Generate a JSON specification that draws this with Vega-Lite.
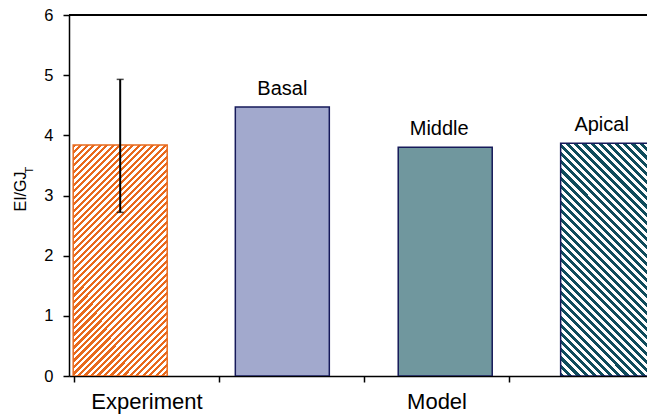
{
  "$schema": "https://vega.github.io/schema/vega-lite/v6.json",
  "width": 578,
  "height": 361,
  "autosize": {"type": "none"},
  "padding": {"left": 69, "top": 15, "right": 0, "bottom": 42},
  "background": "white",
  "config": {
    "view": {"stroke": null},
    "font": "Liberation Sans",
    "axis": {"grid": false, "domainColor": "black", "domainWidth": 1.5, "tickColor": "black", "tickWidth": 1.5, "tickSize": 6, "labelColor": "black", "labelFont": "Liberation Sans", "titleFont": "Liberation Sans", "titleFontWeight": "normal", "titleColor": "black"}
  },
  "data": {
    "values": [
      {"name": "Experiment", "pos": 0.3185, "value": 3.84, "lo": 2.72, "hi": 4.93},
      {"name": "Basal", "pos": 1.4366, "value": 4.47},
      {"name": "Middle", "pos": 2.56, "value": 3.8},
      {"name": "Apical", "pos": 3.68, "value": 3.87}
    ]
  },
  "layer": [
    {
      "mark": {"type": "rule", "color": "black", "strokeWidth": 1.5},
      "encoding": {"y": {"datum": 6, "type": "quantitative", "title": "EI/GJ", "scale": {"domain": [0, 6], "nice": false},
        "axis": {"values": [0, 1, 2, 3, 4, 5, 6], "format": "d", "labelFontSize": 16.5, "labelPadding": 10, "titleFontSize": 16, "titlePadding": 15, "titleY": 176}}}
    },
    {
      "transform": [{"filter": "datum.name == 'Experiment'"}],
      "mark": {"type": "bar", "width": 94, "clip": true, "stroke": "#e8691c", "strokeWidth": 1.5,
        "fill": {"gradient": "linear", "x1": 0, "y1": 0, "x2": 0.4923, "y2": 1.2071, "stops": [
{"offset":0,"color":"#e8691c"},{"offset":0.01,"color":"#e8691c"},{"offset":0.01,"color":"#fff"},{"offset":0.02,"color":"#fff"},
{"offset":0.02,"color":"#e8691c"},{"offset":0.03,"color":"#e8691c"},{"offset":0.03,"color":"#fff"},{"offset":0.04,"color":"#fff"},
{"offset":0.04,"color":"#e8691c"},{"offset":0.05,"color":"#e8691c"},{"offset":0.05,"color":"#fff"},{"offset":0.06,"color":"#fff"},
{"offset":0.06,"color":"#e8691c"},{"offset":0.07,"color":"#e8691c"},{"offset":0.07,"color":"#fff"},{"offset":0.08,"color":"#fff"},
{"offset":0.08,"color":"#e8691c"},{"offset":0.09,"color":"#e8691c"},{"offset":0.09,"color":"#fff"},{"offset":0.1,"color":"#fff"},
{"offset":0.1,"color":"#e8691c"},{"offset":0.11,"color":"#e8691c"},{"offset":0.11,"color":"#fff"},{"offset":0.12,"color":"#fff"},
{"offset":0.12,"color":"#e8691c"},{"offset":0.13,"color":"#e8691c"},{"offset":0.13,"color":"#fff"},{"offset":0.14,"color":"#fff"},
{"offset":0.14,"color":"#e8691c"},{"offset":0.15,"color":"#e8691c"},{"offset":0.15,"color":"#fff"},{"offset":0.16,"color":"#fff"},
{"offset":0.16,"color":"#e8691c"},{"offset":0.17,"color":"#e8691c"},{"offset":0.17,"color":"#fff"},{"offset":0.18,"color":"#fff"},
{"offset":0.18,"color":"#e8691c"},{"offset":0.19,"color":"#e8691c"},{"offset":0.19,"color":"#fff"},{"offset":0.2,"color":"#fff"},
{"offset":0.2,"color":"#e8691c"},{"offset":0.21,"color":"#e8691c"},{"offset":0.21,"color":"#fff"},{"offset":0.22,"color":"#fff"},
{"offset":0.22,"color":"#e8691c"},{"offset":0.23,"color":"#e8691c"},{"offset":0.23,"color":"#fff"},{"offset":0.24,"color":"#fff"},
{"offset":0.24,"color":"#e8691c"},{"offset":0.25,"color":"#e8691c"},{"offset":0.25,"color":"#fff"},{"offset":0.26,"color":"#fff"},
{"offset":0.26,"color":"#e8691c"},{"offset":0.27,"color":"#e8691c"},{"offset":0.27,"color":"#fff"},{"offset":0.28,"color":"#fff"},
{"offset":0.28,"color":"#e8691c"},{"offset":0.29,"color":"#e8691c"},{"offset":0.29,"color":"#fff"},{"offset":0.3,"color":"#fff"},
{"offset":0.3,"color":"#e8691c"},{"offset":0.31,"color":"#e8691c"},{"offset":0.31,"color":"#fff"},{"offset":0.32,"color":"#fff"},
{"offset":0.32,"color":"#e8691c"},{"offset":0.33,"color":"#e8691c"},{"offset":0.33,"color":"#fff"},{"offset":0.34,"color":"#fff"},
{"offset":0.34,"color":"#e8691c"},{"offset":0.35,"color":"#e8691c"},{"offset":0.35,"color":"#fff"},{"offset":0.36,"color":"#fff"},
{"offset":0.36,"color":"#e8691c"},{"offset":0.37,"color":"#e8691c"},{"offset":0.37,"color":"#fff"},{"offset":0.38,"color":"#fff"},
{"offset":0.38,"color":"#e8691c"},{"offset":0.39,"color":"#e8691c"},{"offset":0.39,"color":"#fff"},{"offset":0.4,"color":"#fff"},
{"offset":0.4,"color":"#e8691c"},{"offset":0.41,"color":"#e8691c"},{"offset":0.41,"color":"#fff"},{"offset":0.42,"color":"#fff"},
{"offset":0.42,"color":"#e8691c"},{"offset":0.43,"color":"#e8691c"},{"offset":0.43,"color":"#fff"},{"offset":0.44,"color":"#fff"},
{"offset":0.44,"color":"#e8691c"},{"offset":0.45,"color":"#e8691c"},{"offset":0.45,"color":"#fff"},{"offset":0.46,"color":"#fff"},
{"offset":0.46,"color":"#e8691c"},{"offset":0.47,"color":"#e8691c"},{"offset":0.47,"color":"#fff"},{"offset":0.48,"color":"#fff"},
{"offset":0.48,"color":"#e8691c"},{"offset":0.49,"color":"#e8691c"},{"offset":0.49,"color":"#fff"},{"offset":0.5,"color":"#fff"},
{"offset":0.5,"color":"#e8691c"},{"offset":0.51,"color":"#e8691c"},{"offset":0.51,"color":"#fff"},{"offset":0.52,"color":"#fff"},
{"offset":0.52,"color":"#e8691c"},{"offset":0.53,"color":"#e8691c"},{"offset":0.53,"color":"#fff"},{"offset":0.54,"color":"#fff"},
{"offset":0.54,"color":"#e8691c"},{"offset":0.55,"color":"#e8691c"},{"offset":0.55,"color":"#fff"},{"offset":0.56,"color":"#fff"},
{"offset":0.56,"color":"#e8691c"},{"offset":0.57,"color":"#e8691c"},{"offset":0.57,"color":"#fff"},{"offset":0.58,"color":"#fff"},
{"offset":0.58,"color":"#e8691c"},{"offset":0.59,"color":"#e8691c"},{"offset":0.59,"color":"#fff"},{"offset":0.6,"color":"#fff"},
{"offset":0.6,"color":"#e8691c"},{"offset":0.61,"color":"#e8691c"},{"offset":0.61,"color":"#fff"},{"offset":0.62,"color":"#fff"},
{"offset":0.62,"color":"#e8691c"},{"offset":0.63,"color":"#e8691c"},{"offset":0.63,"color":"#fff"},{"offset":0.64,"color":"#fff"},
{"offset":0.64,"color":"#e8691c"},{"offset":0.65,"color":"#e8691c"},{"offset":0.65,"color":"#fff"},{"offset":0.66,"color":"#fff"},
{"offset":0.66,"color":"#e8691c"},{"offset":0.67,"color":"#e8691c"},{"offset":0.67,"color":"#fff"},{"offset":0.68,"color":"#fff"},
{"offset":0.68,"color":"#e8691c"},{"offset":0.69,"color":"#e8691c"},{"offset":0.69,"color":"#fff"},{"offset":0.7,"color":"#fff"},
{"offset":0.7,"color":"#e8691c"},{"offset":0.71,"color":"#e8691c"},{"offset":0.71,"color":"#fff"},{"offset":0.72,"color":"#fff"},
{"offset":0.72,"color":"#e8691c"},{"offset":0.73,"color":"#e8691c"},{"offset":0.73,"color":"#fff"},{"offset":0.74,"color":"#fff"},
{"offset":0.74,"color":"#e8691c"},{"offset":0.75,"color":"#e8691c"},{"offset":0.75,"color":"#fff"},{"offset":0.76,"color":"#fff"},
{"offset":0.76,"color":"#e8691c"},{"offset":0.77,"color":"#e8691c"},{"offset":0.77,"color":"#fff"},{"offset":0.78,"color":"#fff"},
{"offset":0.78,"color":"#e8691c"},{"offset":0.79,"color":"#e8691c"},{"offset":0.79,"color":"#fff"},{"offset":0.8,"color":"#fff"},
{"offset":0.8,"color":"#e8691c"},{"offset":0.81,"color":"#e8691c"},{"offset":0.81,"color":"#fff"},{"offset":0.82,"color":"#fff"},
{"offset":0.82,"color":"#e8691c"},{"offset":0.83,"color":"#e8691c"},{"offset":0.83,"color":"#fff"},{"offset":0.84,"color":"#fff"},
{"offset":0.84,"color":"#e8691c"},{"offset":0.85,"color":"#e8691c"},{"offset":0.85,"color":"#fff"},{"offset":0.86,"color":"#fff"},
{"offset":0.86,"color":"#e8691c"},{"offset":0.87,"color":"#e8691c"},{"offset":0.87,"color":"#fff"},{"offset":0.88,"color":"#fff"},
{"offset":0.88,"color":"#e8691c"},{"offset":0.89,"color":"#e8691c"},{"offset":0.89,"color":"#fff"},{"offset":0.9,"color":"#fff"},
{"offset":0.9,"color":"#e8691c"},{"offset":0.91,"color":"#e8691c"},{"offset":0.91,"color":"#fff"},{"offset":0.92,"color":"#fff"},
{"offset":0.92,"color":"#e8691c"},{"offset":0.93,"color":"#e8691c"},{"offset":0.93,"color":"#fff"},{"offset":0.94,"color":"#fff"},
{"offset":0.94,"color":"#e8691c"},{"offset":0.95,"color":"#e8691c"},{"offset":0.95,"color":"#fff"},{"offset":0.96,"color":"#fff"},
{"offset":0.96,"color":"#e8691c"},{"offset":0.97,"color":"#e8691c"},{"offset":0.97,"color":"#fff"},{"offset":0.98,"color":"#fff"},
{"offset":0.98,"color":"#e8691c"},{"offset":0.99,"color":"#e8691c"},{"offset":0.99,"color":"#fff"},{"offset":1,"color":"#fff"}
        ]}},
      "encoding": {
        "x": {"field": "pos", "type": "quantitative", "title": null,
          "scale": {"domain": [0, 3.917], "nice": false, "zero": false},
          "axis": {"values": [0, 0.5, 1, 2, 2.5, 3], "labelExpr": "datum.value == 0.5 ? 'Experiment' : datum.value == 2.5 ? 'Model' : ''",
            "tickColor": {"condition": {"test": "datum.value == 0.5 || datum.value == 2.5", "value": "transparent"}, "value": "black"},
            "labelFontSize": 22, "labelPadding": 9, "labelOverlap": false, "labelBound": false, "labelFlush": false}},
        "y": {"field": "value", "type": "quantitative", "title": "EI/GJ"}
      }
    },
    {
      "transform": [{"filter": "datum.name == 'Basal'"}],
      "mark": {"type": "bar", "width": 94, "clip": true, "stroke": "#161a5a", "strokeWidth": 1.5, "fill": "#a2a9cd"},
      "encoding": {
        "x": {"field": "pos", "type": "quantitative", "title": null},
        "y": {"field": "value", "type": "quantitative", "title": "EI/GJ"}
      }
    },
    {
      "transform": [{"filter": "datum.name == 'Middle'"}],
      "mark": {"type": "bar", "width": 94, "clip": true, "stroke": "#161a5a", "strokeWidth": 1.5, "fill": "#70979e"},
      "encoding": {
        "x": {"field": "pos", "type": "quantitative", "title": null},
        "y": {"field": "value", "type": "quantitative", "title": "EI/GJ"}
      }
    },
    {
      "transform": [{"filter": "datum.name == 'Apical'"}],
      "mark": {"type": "bar", "width": 94, "clip": true, "stroke": "#161a5a", "strokeWidth": 1.5,
        "fill": {"gradient": "linear", "x1": 0, "y1": 1, "x2": 0.4873, "y2": -0.207, "stops": [
{"offset":0,"color":"#0f4c5c"},{"offset":0.0125,"color":"#0f4c5c"},{"offset":0.0125,"color":"#fff"},{"offset":0.025,"color":"#fff"},
{"offset":0.025,"color":"#0f4c5c"},{"offset":0.0375,"color":"#0f4c5c"},{"offset":0.0375,"color":"#fff"},{"offset":0.05,"color":"#fff"},
{"offset":0.05,"color":"#0f4c5c"},{"offset":0.0625,"color":"#0f4c5c"},{"offset":0.0625,"color":"#fff"},{"offset":0.075,"color":"#fff"},
{"offset":0.075,"color":"#0f4c5c"},{"offset":0.0875,"color":"#0f4c5c"},{"offset":0.0875,"color":"#fff"},{"offset":0.1,"color":"#fff"},
{"offset":0.1,"color":"#0f4c5c"},{"offset":0.1125,"color":"#0f4c5c"},{"offset":0.1125,"color":"#fff"},{"offset":0.125,"color":"#fff"},
{"offset":0.125,"color":"#0f4c5c"},{"offset":0.1375,"color":"#0f4c5c"},{"offset":0.1375,"color":"#fff"},{"offset":0.15,"color":"#fff"},
{"offset":0.15,"color":"#0f4c5c"},{"offset":0.1625,"color":"#0f4c5c"},{"offset":0.1625,"color":"#fff"},{"offset":0.175,"color":"#fff"},
{"offset":0.175,"color":"#0f4c5c"},{"offset":0.1875,"color":"#0f4c5c"},{"offset":0.1875,"color":"#fff"},{"offset":0.2,"color":"#fff"},
{"offset":0.2,"color":"#0f4c5c"},{"offset":0.2125,"color":"#0f4c5c"},{"offset":0.2125,"color":"#fff"},{"offset":0.225,"color":"#fff"},
{"offset":0.225,"color":"#0f4c5c"},{"offset":0.2375,"color":"#0f4c5c"},{"offset":0.2375,"color":"#fff"},{"offset":0.25,"color":"#fff"},
{"offset":0.25,"color":"#0f4c5c"},{"offset":0.2625,"color":"#0f4c5c"},{"offset":0.2625,"color":"#fff"},{"offset":0.275,"color":"#fff"},
{"offset":0.275,"color":"#0f4c5c"},{"offset":0.2875,"color":"#0f4c5c"},{"offset":0.2875,"color":"#fff"},{"offset":0.3,"color":"#fff"},
{"offset":0.3,"color":"#0f4c5c"},{"offset":0.3125,"color":"#0f4c5c"},{"offset":0.3125,"color":"#fff"},{"offset":0.325,"color":"#fff"},
{"offset":0.325,"color":"#0f4c5c"},{"offset":0.3375,"color":"#0f4c5c"},{"offset":0.3375,"color":"#fff"},{"offset":0.35,"color":"#fff"},
{"offset":0.35,"color":"#0f4c5c"},{"offset":0.3625,"color":"#0f4c5c"},{"offset":0.3625,"color":"#fff"},{"offset":0.375,"color":"#fff"},
{"offset":0.375,"color":"#0f4c5c"},{"offset":0.3875,"color":"#0f4c5c"},{"offset":0.3875,"color":"#fff"},{"offset":0.4,"color":"#fff"},
{"offset":0.4,"color":"#0f4c5c"},{"offset":0.4125,"color":"#0f4c5c"},{"offset":0.4125,"color":"#fff"},{"offset":0.425,"color":"#fff"},
{"offset":0.425,"color":"#0f4c5c"},{"offset":0.4375,"color":"#0f4c5c"},{"offset":0.4375,"color":"#fff"},{"offset":0.45,"color":"#fff"},
{"offset":0.45,"color":"#0f4c5c"},{"offset":0.4625,"color":"#0f4c5c"},{"offset":0.4625,"color":"#fff"},{"offset":0.475,"color":"#fff"},
{"offset":0.475,"color":"#0f4c5c"},{"offset":0.4875,"color":"#0f4c5c"},{"offset":0.4875,"color":"#fff"},{"offset":0.5,"color":"#fff"},
{"offset":0.5,"color":"#0f4c5c"},{"offset":0.5125,"color":"#0f4c5c"},{"offset":0.5125,"color":"#fff"},{"offset":0.525,"color":"#fff"},
{"offset":0.525,"color":"#0f4c5c"},{"offset":0.5375,"color":"#0f4c5c"},{"offset":0.5375,"color":"#fff"},{"offset":0.55,"color":"#fff"},
{"offset":0.55,"color":"#0f4c5c"},{"offset":0.5625,"color":"#0f4c5c"},{"offset":0.5625,"color":"#fff"},{"offset":0.575,"color":"#fff"},
{"offset":0.575,"color":"#0f4c5c"},{"offset":0.5875,"color":"#0f4c5c"},{"offset":0.5875,"color":"#fff"},{"offset":0.6,"color":"#fff"},
{"offset":0.6,"color":"#0f4c5c"},{"offset":0.6125,"color":"#0f4c5c"},{"offset":0.6125,"color":"#fff"},{"offset":0.625,"color":"#fff"},
{"offset":0.625,"color":"#0f4c5c"},{"offset":0.6375,"color":"#0f4c5c"},{"offset":0.6375,"color":"#fff"},{"offset":0.65,"color":"#fff"},
{"offset":0.65,"color":"#0f4c5c"},{"offset":0.6625,"color":"#0f4c5c"},{"offset":0.6625,"color":"#fff"},{"offset":0.675,"color":"#fff"},
{"offset":0.675,"color":"#0f4c5c"},{"offset":0.6875,"color":"#0f4c5c"},{"offset":0.6875,"color":"#fff"},{"offset":0.7,"color":"#fff"},
{"offset":0.7,"color":"#0f4c5c"},{"offset":0.7125,"color":"#0f4c5c"},{"offset":0.7125,"color":"#fff"},{"offset":0.725,"color":"#fff"},
{"offset":0.725,"color":"#0f4c5c"},{"offset":0.7375,"color":"#0f4c5c"},{"offset":0.7375,"color":"#fff"},{"offset":0.75,"color":"#fff"},
{"offset":0.75,"color":"#0f4c5c"},{"offset":0.7625,"color":"#0f4c5c"},{"offset":0.7625,"color":"#fff"},{"offset":0.775,"color":"#fff"},
{"offset":0.775,"color":"#0f4c5c"},{"offset":0.7875,"color":"#0f4c5c"},{"offset":0.7875,"color":"#fff"},{"offset":0.8,"color":"#fff"},
{"offset":0.8,"color":"#0f4c5c"},{"offset":0.8125,"color":"#0f4c5c"},{"offset":0.8125,"color":"#fff"},{"offset":0.825,"color":"#fff"},
{"offset":0.825,"color":"#0f4c5c"},{"offset":0.8375,"color":"#0f4c5c"},{"offset":0.8375,"color":"#fff"},{"offset":0.85,"color":"#fff"},
{"offset":0.85,"color":"#0f4c5c"},{"offset":0.8625,"color":"#0f4c5c"},{"offset":0.8625,"color":"#fff"},{"offset":0.875,"color":"#fff"},
{"offset":0.875,"color":"#0f4c5c"},{"offset":0.8875,"color":"#0f4c5c"},{"offset":0.8875,"color":"#fff"},{"offset":0.9,"color":"#fff"},
{"offset":0.9,"color":"#0f4c5c"},{"offset":0.9125,"color":"#0f4c5c"},{"offset":0.9125,"color":"#fff"},{"offset":0.925,"color":"#fff"},
{"offset":0.925,"color":"#0f4c5c"},{"offset":0.9375,"color":"#0f4c5c"},{"offset":0.9375,"color":"#fff"},{"offset":0.95,"color":"#fff"},
{"offset":0.95,"color":"#0f4c5c"},{"offset":0.9625,"color":"#0f4c5c"},{"offset":0.9625,"color":"#fff"},{"offset":0.975,"color":"#fff"},
{"offset":0.975,"color":"#0f4c5c"},{"offset":0.9875,"color":"#0f4c5c"},{"offset":0.9875,"color":"#fff"},{"offset":1,"color":"#fff"}
        ]}},
      "encoding": {
        "x": {"field": "pos", "type": "quantitative", "title": null},
        "y": {"field": "value", "type": "quantitative", "title": "EI/GJ"}
      }
    },
    {
      "transform": [{"filter": "datum.name == 'Experiment'"}],
      "mark": {"type": "rule", "color": "black", "strokeWidth": 2},
      "encoding": {
        "x": {"field": "pos", "type": "quantitative", "title": null},
        "y": {"field": "lo", "type": "quantitative", "title": "EI/GJ"},
        "y2": {"field": "hi"}
      }
    },
    {
      "transform": [{"filter": "datum.name == 'Experiment'"}],
      "mark": {"type": "tick", "orient": "horizontal", "color": "black", "size": 7, "thickness": 1.5},
      "encoding": {
        "x": {"field": "pos", "type": "quantitative", "title": null},
        "y": {"field": "hi", "type": "quantitative", "title": "EI/GJ"}
      }
    },
    {
      "transform": [{"filter": "datum.name == 'Experiment'"}],
      "mark": {"type": "tick", "orient": "horizontal", "color": "black", "size": 7, "thickness": 1.5},
      "encoding": {
        "x": {"field": "pos", "type": "quantitative", "title": null},
        "y": {"field": "lo", "type": "quantitative", "title": "EI/GJ"}
      }
    },
    {
      "transform": [{"filter": "datum.name == 'Basal'"}],
      "mark": {"type": "text", "fontSize": 20, "font": "Liberation Sans", "color": "black", "baseline": "alphabetic", "dy": -12},
      "encoding": {
        "x": {"field": "pos", "type": "quantitative", "title": null},
        "y": {"field": "value", "type": "quantitative", "title": "EI/GJ"},
        "text": {"field": "name"}
      }
    },
    {
      "transform": [{"filter": "datum.name == 'Middle' || datum.name == 'Apical'"}],
      "mark": {"type": "text", "fontSize": 20, "font": "Liberation Sans", "color": "black", "baseline": "alphabetic", "dy": -12, "dx": -6},
      "encoding": {
        "x": {"field": "pos", "type": "quantitative", "title": null},
        "y": {"field": "value", "type": "quantitative", "title": "EI/GJ"},
        "text": {"field": "name"}
      }
    },
    {
      "data": {"values": [{"sub": "T"}]},
      "mark": {"type": "text", "fontSize": 11, "font": "Liberation Sans", "color": "black", "angle": 270, "align": "center", "baseline": "middle"},
      "encoding": {
        "x": {"datum": -0.3, "type": "quantitative"},
        "y": {"datum": 3.42, "type": "quantitative"},
        "text": {"field": "sub"}
      }
    }
  ]
}
